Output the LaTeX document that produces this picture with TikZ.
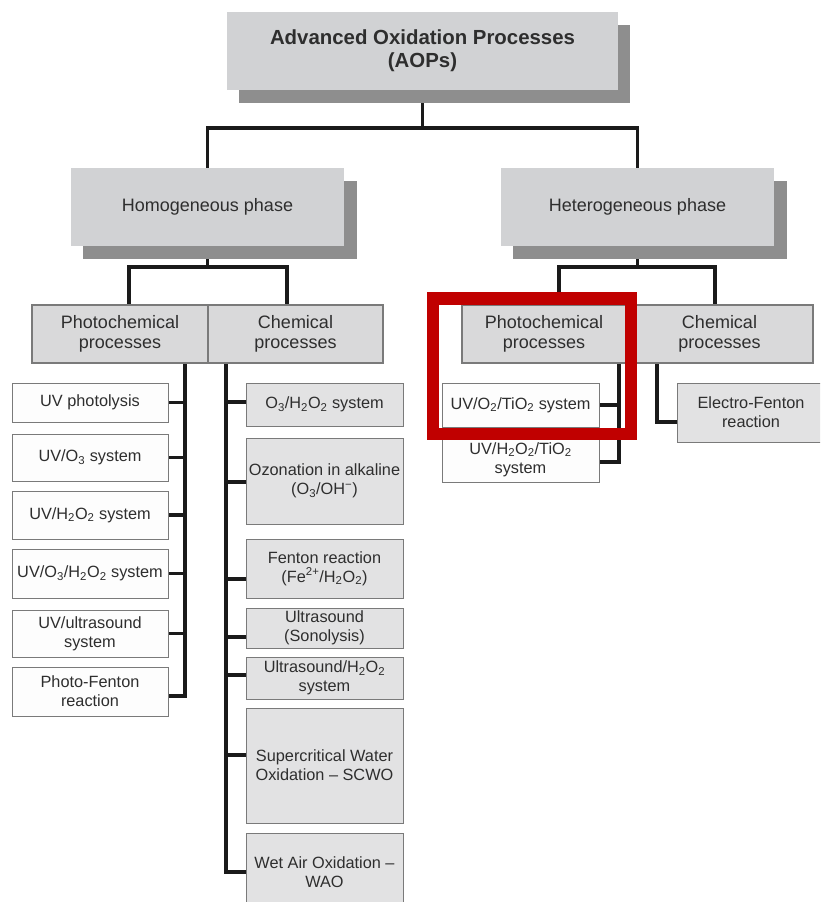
\documentclass[tikz,border=0pt]{standalone}
\usepackage{fontspec}
\setmainfont{Liberation Sans}
\usetikzlibrary{calc}
\definecolor{mainfill}{HTML}{D1D2D4}
\definecolor{shadowgray}{HTML}{8E8E8E}
\definecolor{catfill}{HTML}{D9D9DA}
\definecolor{lightfill}{HTML}{E2E2E3}
\definecolor{wfill}{HTML}{FDFDFD}
\definecolor{bordergray}{HTML}{7A7A7A}
\definecolor{textgray}{HTML}{2E2E2E}
\definecolor{connblack}{HTML}{1A1A1A}
\definecolor{hlred}{HTML}{C00000}
\pgfdeclarelayer{bg}
\pgfsetlayers{bg,main}
\begin{document}
\begin{tikzpicture}[x=1pt,y=-1pt,
  shadowbox/.style={fill=shadowgray, draw=none, inner sep=0pt},
  phase/.style={fill=mainfill, draw=none, inner sep=0pt, text=textgray, align=center, font=\fontsize{18}{21}\selectfont},
  cat/.style={fill=catfill, draw=bordergray, line width=1.1pt, inner sep=0pt, text=textgray, align=center, font=\fontsize{18}{20.5}\selectfont},
  wbox/.style={fill=wfill, draw=bordergray, line width=1pt, inner sep=0pt, text=textgray, align=center, font=\fontsize{16.3}{18.8}\selectfont},
  gbox/.style={wbox, fill=lightfill},
  conn/.style={draw=connblack, line width=3.8pt},
  hl/.style={draw=hlred, line width=12.5pt, inner sep=0pt, fill=none}]
\useasboundingbox (0,0) rectangle (820,902);
\clip (0,0) rectangle (820,902);

% top level
\node[shadowbox, minimum width=391, minimum height=78] (tops) at (434.5,63.5) {};
\node[phase, minimum width=391, minimum height=78, font=\fontsize{20.4}{23}\selectfont\bfseries] (top) at (422.5,51) {Advanced Oxidation Processes\\(AOPs)};

% phases
\node[shadowbox, minimum width=274, minimum height=78] (homos) at (220,220) {};
\node[phase, minimum width=273, minimum height=78] (homo) at (207.5,207) {Homogeneous phase};
\node[shadowbox, minimum width=274, minimum height=78] (hets) at (650,220) {};
\node[phase, minimum width=273, minimum height=78] (het) at (637.5,207) {Heterogeneous phase};

% categories
\node[cat, minimum width=176, minimum height=58] (hphoto) at (120,334) {Photochemical\\processes};
\node[cat, minimum width=175, minimum height=58] (hchem) at (295.5,334) {Chemical\\processes};
\node[cat, minimum width=164, minimum height=58] (tphoto) at (544,334) {Photochemical\\processes};
\node[cat, minimum width=187, minimum height=58] (tchem) at (719.5,334) {Chemical\\processes};

% left column
\node[wbox, minimum width=156, minimum height=39] (uvp) at (90,402.5) {UV photolysis};
\node[wbox, minimum width=156, minimum height=47] (uvo3) at (90,457.5) {UV/O\textsubscript{3} system};
\node[wbox, minimum width=156, minimum height=48] (uvh) at (90,515) {UV/H\textsubscript{2}O\textsubscript{2} system};
\node[wbox, minimum width=156, minimum height=49] (uvoh) at (90,573.5) {UV/O\textsubscript{3}/H\textsubscript{2}O\textsubscript{2} system};
\node[wbox, minimum width=156, minimum height=47] (uvus) at (90,633.5) {UV/ultrasound\\system};
\node[wbox, minimum width=156, minimum height=49] (pf) at (90,691.5) {Photo-Fenton\\reaction};

% middle column
\node[gbox, minimum width=157, minimum height=43] (oh) at (324.5,404.5) {O\textsubscript{3}/H\textsubscript{2}O\textsubscript{2} system};
\node[gbox, minimum width=157, minimum height=86] (ozo) at (324.5,481) {Ozonation in alkaline\\(O\textsubscript{3}/OH\textsuperscript{−})};
\node[gbox, minimum width=157, minimum height=59] (fen) at (324.5,568.5) {Fenton reaction\\(Fe\textsuperscript{2+}/H\textsubscript{2}O\textsubscript{2})};
\node[gbox, minimum width=157, minimum height=40] (sono) at (324.5,628) {Ultrasound\\(Sonolysis)};
\node[gbox, minimum width=157, minimum height=42] (ush) at (324.5,678) {Ultrasound/H\textsubscript{2}O\textsubscript{2}\\system};
\node[gbox, minimum width=157, minimum height=115] (scwo) at (324.5,765.5) {Supercritical Water\\Oxidation – SCWO};
\node[gbox, minimum width=157, minimum height=78] (wao) at (324.5,872) {Wet Air Oxidation –\\WAO};

% heterogeneous children
\node[wbox, minimum width=157, minimum height=44] (tio) at (520.5,405) {UV/O\textsubscript{2}/TiO\textsubscript{2} system};
\node[wbox, minimum width=157, minimum height=45] (tioh) at (520.5,459.5) {UV/H\textsubscript{2}O\textsubscript{2}/TiO\textsubscript{2}\\system};
\node[gbox, minimum width=148, minimum height=59] (ef) at (751,412.5) {Electro-Fenton\\reaction};

% highlight
\node[hl, minimum width=198, minimum height=135.5] (hlbox) at (532,366.25) {};

% connectors
\begin{pgfonlayer}{bg}
\draw[conn] (top.south) -- ++(0,38) coordinate (tj) -| (homo.north);
\draw[conn] (tj) -| (het.north);
\draw[conn] (homo.south) -- ++(0,21) coordinate (hj) -| ([xshift=9pt]hphoto.north);
\draw[conn] (hj) -| ([xshift=-8.5pt]hchem.north);
\draw[conn] (het.south) -- ++(0,21) coordinate (ej) -| ([xshift=15pt]tphoto.north);
\draw[conn] (ej) -| ([xshift=-4.5pt]tchem.north);
% left vertical
\coordinate (lv) at ([xshift=65pt]hphoto.south);
\draw[conn] (lv) |- ([yshift=-4.5pt]pf.east);
\foreach \n in {uvp,uvo3,uvh,uvoh,uvus}
  \draw[conn] (\n.east) -- (\n.east -| lv);
% middle vertical
\coordinate (mv) at ([xshift=-69.5pt]hchem.south);
\draw[conn] (mv) |- ([yshift=0pt]wao.west);
\foreach \n/\s in {oh/2.5,ozo/-1,fen/-10.5,sono/-9,ush/3,scwo/10.5}
  \draw[conn] ([yshift=\s pt]\n.west) -- ([yshift=\s pt]\n.west -| mv);
% heterogeneous
\coordinate (pv) at ([xshift=75pt]tphoto.south);
\draw[conn] (pv) |- ([yshift=-2.5pt]tioh.east);
\draw[conn] (tio.east) -- (tio.east -| pv);
\draw[conn] ([xshift=-62.5pt]tchem.south) |- ([yshift=-9.5pt]ef.west);
\end{pgfonlayer}
\end{tikzpicture}
\end{document}
